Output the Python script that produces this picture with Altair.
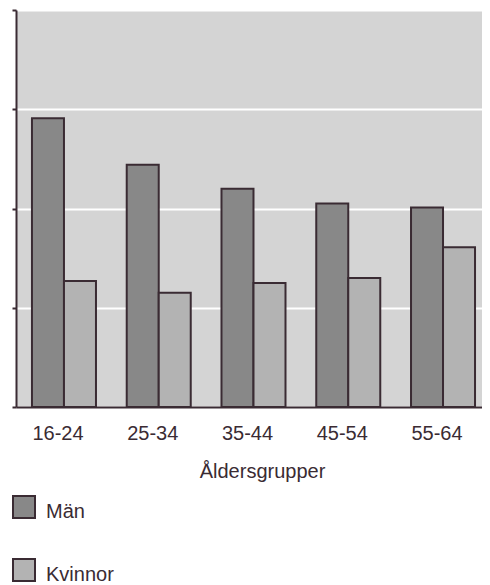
import altair as alt
import pandas as pd

ages = ["16-24", "25-34", "35-44", "45-54", "55-64"]
series = ["Män", "Kvinnor"]
man = [2.91, 2.44, 2.20, 2.05, 2.01]
kvinnor = [1.27, 1.15, 1.25, 1.30, 1.61]
y_ticks = [0, 1, 2, 3, 4]

rows = []
for a, m, k in zip(ages, man, kvinnor):
    rows.append({"age": a, "sex": "Män", "value": m})
    rows.append({"age": a, "sex": "Kvinnor", "value": k})
df = pd.DataFrame(rows)

INK = "#3a2b33"
FONT = "Liberation Sans"

chart = alt.Chart(df).mark_bar(stroke=INK, strokeWidth=2).encode(
    x=alt.X("age:N", sort=ages,
            scale=alt.Scale(paddingInner=0.3245, paddingOuter=0.121, align=0.696),
            axis=alt.Axis(title="Åldersgrupper", labelAngle=0, ticks=False, tickSize=0,
                          labelFontSize=20, labelFont=FONT, labelColor=INK,
                          labelBaseline="alphabetic", labelPadding=32.5, labelOffset=-6,
                          titleFontSize=20, titleFont=FONT, titleColor=INK, titleFontWeight="normal",
                          titleBaseline="alphabetic", titleX=246, titleY=70, titleAlign="center",
                          domainColor=INK, domainWidth=2, grid=False)),
    xOffset=alt.XOffset("sex:N", sort=series, scale=alt.Scale(paddingInner=0, paddingOuter=0)),
    y=alt.Y("value:Q", scale=alt.Scale(domain=[0, 4], nice=False),
            axis=alt.Axis(title=None, values=y_ticks, labels=False, tickSize=4, tickWidth=2,
                          tickColor=INK, domainColor=INK, domainWidth=2,
                          grid=True, gridColor="white", gridWidth=2)),
    fill=alt.Fill("sex:N", sort=series,
                  scale=alt.Scale(domain=series, range=["#888888", "#b3b3b3"]),
                  legend=alt.Legend(title=None, orient="none", legendX=-4, legendY=485,
                                    direction="vertical", symbolType="square", symbolSize=484,
                                    symbolStrokeColor=INK, symbolStrokeWidth=2,
                                    symbolOpacity=1,
                                    labelFontSize=20, labelFont=FONT, labelColor=INK,
                                    labelBaseline="line-top",
                                    labelOffset=10, rowPadding=33, padding=0, offset=0)),
).properties(
    width=466, height=397,
    padding={"left": 8, "top": 2, "right": 0, "bottom": 181},
    autosize=alt.AutoSizeParams(type="none"),
    background="white",
).configure(
    view=alt.ViewConfig(fill="#d4d4d4", stroke=None),
    style={"guide-label": {"lineHeight": 10}},
)

chart.save("out.html", embed_options={"renderer": "svg", "actions": False})
